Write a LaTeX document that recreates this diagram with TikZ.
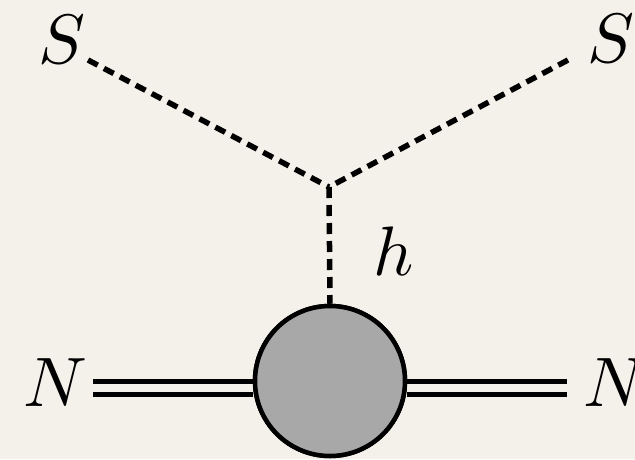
\documentclass[tikz,border=0pt]{standalone}
\usepackage{graphicx}
\usetikzlibrary{calc}
\definecolor{bg}{HTML}{F4F1EA}
\definecolor{blobgray}{HTML}{A8A8A8}
\newcommand{\biglbl}[1]{\scalebox{7}{$#1$}}
\begin{document}
\begin{tikzpicture}[x=1pt,y=-1pt,
  scalar/.style={line width=5.5pt,dash pattern=on 11pt off 7pt},
  fermion/.style={double=bg,double distance=7.5pt,line width=5.5pt},
  blobstyle/.style={circle,draw,line width=4.5pt,fill=blobgray,minimum size=150pt,inner sep=0pt},
  lbl/.style={inner sep=0pt}]
\fill[bg] (0,0) rectangle (635,459);
\useasboundingbox (0,0) rectangle (635,459);
\coordinate (v) at (329,187);
\coordinate (sl) at (88,60);
\coordinate (sr) at (568,60);
\node[lbl] (Sl) at (62,40) {\biglbl{S}};
\node[lbl] (Sr) at (611,39) {\biglbl{S}};
\node[lbl] (h) at (394,251) {\biglbl{h}};
\node[lbl] (Nl) at (55,383) {\biglbl{N}};
\node[lbl] (Nr) at (615,383) {\biglbl{N}};
\node[blobstyle] (blob) at (330,381) {};
\coordinate (nl) at (93,388);
\coordinate (nr) at (567,388);
\draw[scalar] (sl) -- (v);
\draw[scalar] (sr) -- (v);
\draw[scalar] (v) -- (blob.north);
\draw[fermion] (nl) -- (nl -| blob.west);
\draw[fermion] (nr) -- (nr -| blob.east);
\node[blobstyle] at (blob) {};
\end{tikzpicture}
\end{document}
